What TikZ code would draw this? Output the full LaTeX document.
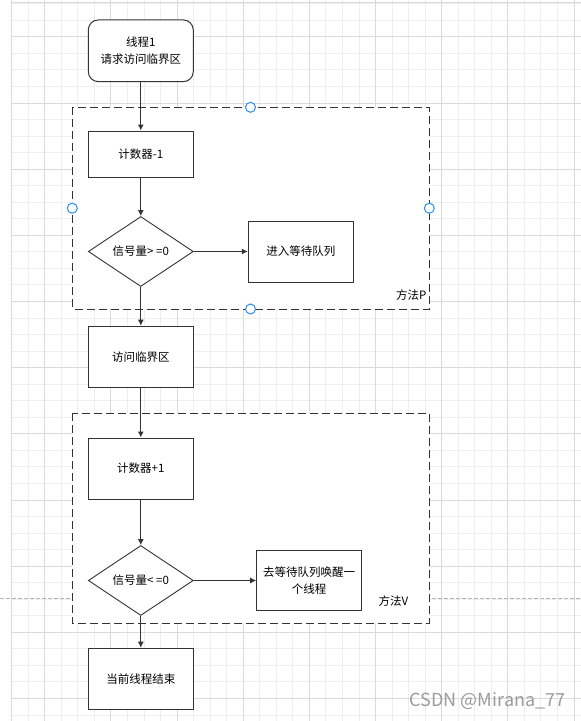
\documentclass[tikz,border=0pt]{standalone}
\usepackage{fontspec}
\setmainfont{Noto Sans CJK SC}
\usetikzlibrary{shapes.geometric,arrows.meta}
\definecolor{linegray}{RGB}{51,51,51}
\definecolor{gridminor}{RGB}{238,238,238}
\definecolor{gridmajor}{RGB}{218,218,218}
\definecolor{pagegray}{RGB}{180,180,180}
\definecolor{handleblue}{RGB}{41,140,243}
\definecolor{markgray}{RGB}{155,155,155}

\begin{document}
\begin{tikzpicture}[x=1pt,y=-1pt,
	txt/.style={font=\fontsize{11.5}{17.5}\selectfont},
	box/.style={txt,draw=linegray,fill=white,line width=1pt,minimum width=105pt,minimum height=61pt,inner sep=0pt,align=center},
	cond/.style={txt,diamond,draw=linegray,fill=white,line width=0.9pt,minimum width=105pt,minimum height=70pt,inner sep=0pt},
	method/.style={draw=linegray,fill=white,line width=1pt,dash pattern=on 8pt off 4pt},
	flow/.style={draw=linegray,line width=1pt,-{Latex[length=6pt,width=6pt]}},
	handle/.style={draw=handleblue,fill=white,line width=1pt}]
	\useasboundingbox (0,0) rectangle (581,721);
	% draw background grid
	\foreach \i [evaluate=\i as \x using 11.6+\i*16.54] in {0,...,34}
	\draw[gridminor,line width=0.8pt] (\x,0) -- (\x,721);
	\foreach \i [evaluate=\i as \y using 3.7+\i*16.54] in {0,...,43}
	\draw[gridminor,line width=0.8pt] (11.6,\y) -- (581,\y);
	\foreach \i [evaluate=\i as \x using 44.7+\i*66.16] in {0,...,8}
	\draw[gridmajor,line width=0.8pt] (\x,0) -- (\x,721);
	\foreach \i [evaluate=\i as \y using 36.8+\i*66.16] in {0,...,10}
	\draw[gridmajor,line width=0.8pt] (11.6,\y) -- (581,\y);
	\draw[gridmajor,line width=0.8pt] (11.6,0) -- (11.6,721);
	\draw[gridmajor,line width=0.8pt] (11.6,2) -- (581,2);
	% page break line
	\draw[pagegray,line width=0.8pt,dash pattern=on 4pt off 2pt] (0,598) -- (581,598);
	% method boxes
	\draw[method] (72.3,107.3) rectangle (429.3,309);
	\draw[method] (72.3,413.3) rectangle (429.3,623.3);
	% flow nodes
	\node[box,rounded corners=10pt,minimum height=61.7pt] (start) at (140.8,50.8) {线程1\\请求访问临界区};
	\node[box,minimum height=46pt] (dec) at (140.8,154) {计数器-1};
	\node[cond] (testP) at (140.8,251.5) {信号量> =0};
	\node[box] (queue) at (300.8,251.5) {进入等待队列};
	\node[box] (crit) at (140.8,356.7) {访问临界区};
	\node[box] (inc) at (140.8,468.5) {计数器+1};
	\node[cond] (testV) at (140.8,580.5) {信号量< =0};
	\node[box,minimum height=60.3pt] (wake) at (309.2,580.5) {去等待队列唤醒一\\个线程};
	\node[box] (done) at (140.8,678.7) {当前线程结束};
	% draw flow
	\draw[flow] (start) -- (dec);
	\draw[flow] (dec) -- (testP);
	\draw[flow] (testP) -- (queue);
	\draw[flow] (testP) -- (crit);
	\draw[flow] (crit) -- (inc);
	\draw[flow] (inc) -- (testV);
	\draw[flow] (testV) -- (wake);
	\draw[flow] (testV) -- (done);
	% labels
	\node[txt,anchor=east,inner sep=0pt] (labP) at (426.5,295.5) {方法P};
	\node[txt,anchor=east,inner sep=0pt] (labV) at (408.5,600.7) {方法V};
	% selection handles
	\draw[handle] (250.5,107.3) circle (5);
	\draw[handle] (72.3,208.2) circle (5);
	\draw[handle] (429.3,208.2) circle (5);
	\draw[handle] (250.5,309) circle (5);
	% watermark
	\node[anchor=east,inner sep=0pt,text=markgray,font=\fontsize{18}{20}\selectfont] (mark) at (565.5,701.5) {CSDN @Mirana\_77};
\end{tikzpicture}
\end{document}
